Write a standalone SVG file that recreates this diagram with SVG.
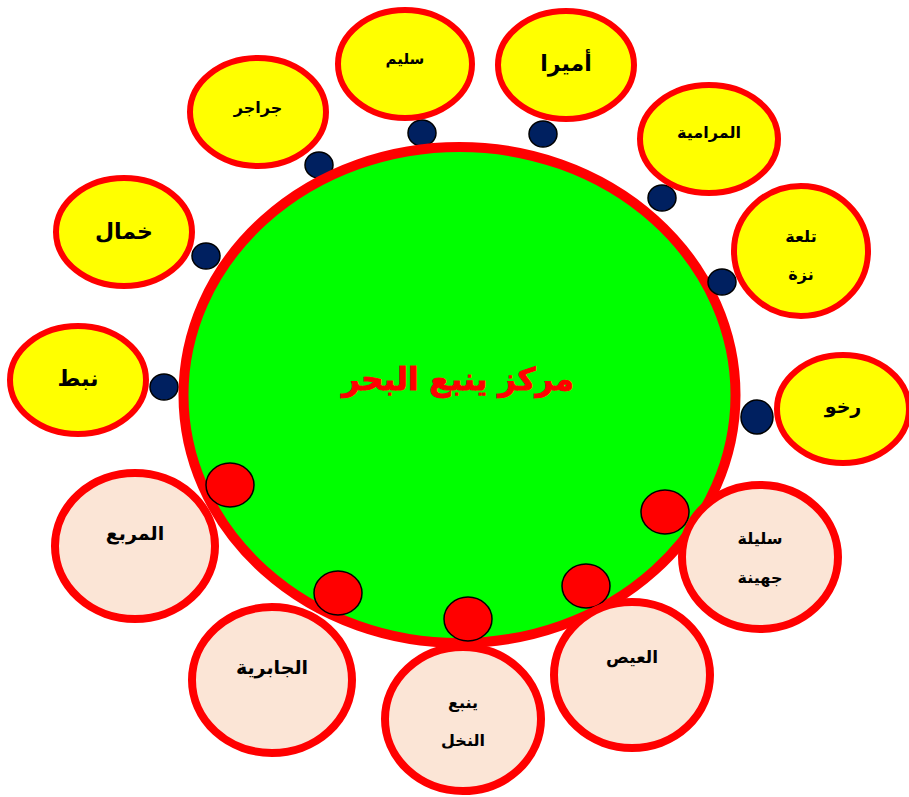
<svg xmlns="http://www.w3.org/2000/svg" width="909" height="797" viewBox="0 0 909 797">
<style>
.y{fill:#FFFF00;stroke:#FF0000;stroke-width:6}
.p{fill:#FBE5D6;stroke:#FF0000;stroke-width:8}
.nd{fill:#002060;stroke:#000;stroke-width:1.5}
.rd{fill:#FF0000;stroke:#000;stroke-width:1.5}
.t{font-family:"DejaVu Sans","Noto Sans",sans-serif;font-weight:bold;fill:#000;text-anchor:middle;dominant-baseline:central}
</style>
<rect width="909" height="797" fill="#fff"/>
<g id="connectors">
<ellipse class="nd" cx="422" cy="133" rx="14" ry="13"/>
<ellipse class="nd" cx="319" cy="165" rx="14" ry="13"/>
<ellipse class="nd" cx="206" cy="256" rx="14" ry="13"/>
<ellipse class="nd" cx="164" cy="387" rx="14" ry="13"/>
</g>
<g id="center">
<ellipse cx="459.5" cy="395" rx="276" ry="248" fill="#00FF00" stroke="#FF0000" stroke-width="10"/>
<text class="t" x="458" y="379" style="font-size:31px;fill:#FF0000;stroke:#FF0000;stroke-width:1" direction="rtl">مركز ينبع البحر</text>
</g>
<g id="connectors2">
<ellipse class="nd" cx="543" cy="134" rx="14" ry="13"/>
<ellipse class="nd" cx="662" cy="198" rx="14" ry="13"/>
<ellipse class="nd" cx="722" cy="282" rx="14" ry="13"/>
<ellipse class="nd" cx="757" cy="417" rx="16" ry="17"/>
<ellipse class="rd" cx="230" cy="485" rx="24" ry="22"/>
<ellipse class="rd" cx="338" cy="593" rx="24" ry="22"/>
<ellipse class="rd" cx="468" cy="619" rx="24" ry="22"/>
<ellipse class="rd" cx="586" cy="586" rx="24" ry="22"/>
<ellipse class="rd" cx="665" cy="512" rx="24" ry="22"/>
</g>
<g id="n-salim"><ellipse class="y" cx="405" cy="64" rx="67" ry="54"/><text class="t" x="405" y="59" font-size="15">سليم</text></g>
<g id="n-jarajer"><ellipse class="y" cx="258" cy="112" rx="68" ry="54"/><text class="t" x="258" y="107" font-size="16">جراجر</text></g>
<g id="n-amira"><ellipse class="y" cx="566" cy="65" rx="68" ry="54"/><text class="t" x="566" y="63" font-size="22">أميرا</text></g>
<g id="n-maramiya"><ellipse class="y" cx="709" cy="139" rx="69" ry="54"/><text class="t" x="709" y="132" font-size="16">المرامية</text></g>
<g id="n-tala"><ellipse class="y" cx="801" cy="251" rx="67" ry="65"/><text class="t" x="801" y="236" font-size="16">تلعة</text><text class="t" x="801" y="274" font-size="16">نزة</text></g>
<g id="n-rakhw"><ellipse class="y" cx="843" cy="409" rx="66" ry="54"/><text class="t" x="843" y="406" font-size="19">رخو</text></g>
<g id="n-khamal"><ellipse class="y" cx="124" cy="232" rx="68" ry="54"/><text class="t" x="124" y="231" font-size="22">خمال</text></g>
<g id="n-nabt"><ellipse class="y" cx="78" cy="380" rx="68" ry="54"/><text class="t" x="78" y="378" font-size="22">نبط</text></g>
<g id="n-murabba"><ellipse class="p" cx="135" cy="546" rx="80" ry="73"/><text class="t" x="135" y="533" font-size="19">المربع</text></g>
<g id="n-jabiriya"><ellipse class="p" cx="272" cy="680" rx="80" ry="73"/><text class="t" x="272" y="667" font-size="19">الجابرية</text></g>
<g id="n-yanbu-nakhl"><ellipse class="p" cx="463" cy="719" rx="78" ry="72"/><text class="t" x="463" y="702" font-size="16">ينبع</text><text class="t" x="463" y="740" font-size="16">النخل</text></g>
<g id="n-ais"><ellipse class="p" cx="632" cy="675" rx="78" ry="73"/><text class="t" x="632" y="657" font-size="17">العيص</text></g>
<g id="n-sulaila"><ellipse class="p" cx="760" cy="557" rx="78" ry="72"/><text class="t" x="760" y="538" font-size="16">سليلة</text><text class="t" x="760" y="577" font-size="16">جهينة</text></g>
</svg>
